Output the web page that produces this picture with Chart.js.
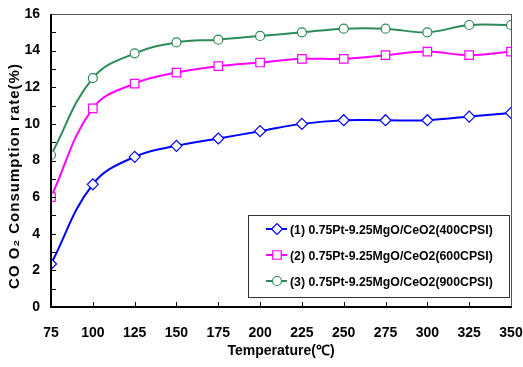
<!DOCTYPE html>
<html lang="en">
<head>
  <meta charset="UTF-8">
  <title>CO Consumption rate</title>
  <style>
    body { margin: 0; background: #fff; }
    .wrap { width: 523px; height: 367px; }
  </style>
  <script src="https://cdn.jsdelivr.net/npm/chart.js"></script>
</head>
<body>
  <div class="wrap"><canvas id="chart"></canvas></div>
  <script>
    // data
    const temps = [75, 100, 125, 150, 175, 200, 225, 250, 275, 300, 325, 350];
    const cpsi400 = [2.35, 6.7, 8.2, 8.8, 9.2, 9.6, 10.0, 10.2, 10.2, 10.2, 10.4, 10.6];
    const cpsi600 = [6.0, 10.85, 12.2, 12.8, 13.15, 13.35, 13.55, 13.55, 13.75, 13.95, 13.75, 13.95];
    const cpsi900 = [8.3, 12.5, 13.85, 14.45, 14.6, 14.8, 15.0, 15.2, 15.2, 15.0, 15.4, 15.4];
    const seriesNames = [
      '(1) 0.75Pt-9.25MgO/CeO2(400CPSI)',
      '(2) 0.75Pt-9.25MgO/CeO2(600CPSI)',
      '(3) 0.75Pt-9.25MgO/CeO2(900CPSI)'
    ];
    const yTitle = 'CO O\u2082 Consumption rate(%)';
    const xTitle = 'Temperature(\u2103)';

    const font = 'Arial, "Liberation Sans", sans-serif';

    function makeSet(label, values, color, style, radius) {
      return {
        label,
        data: temps.map((t, i) => ({ x: t, y: values[i] })),
        borderColor: color,
        backgroundColor: '#fff',
        borderWidth: 2,
        tension: 0.4,
        pointStyle: style,
        pointRadius: radius,
        pointBorderWidth: 1.2,
        pointBackgroundColor: '#fff',
        pointBorderColor: color
      };
    }

    // inward ticks, frame, y title and inner legend
    const decor = {
      id: 'decor',
      afterDraw(chart) {
        const { ctx, chartArea: a, scales } = chart;
        ctx.save();
        ctx.strokeStyle = '#000';
        ctx.lineWidth = 1;
        for (let v = 0; v <= 16; v++) {
          const y = Math.round(scales.y.getPixelForValue(v)) + 0.5;
          ctx.beginPath(); ctx.moveTo(a.left, y); ctx.lineTo(a.left + 5, y); ctx.stroke();
        }
        temps.forEach(t => {
          const x = Math.round(scales.x.getPixelForValue(t)) + 0.5;
          ctx.beginPath(); ctx.moveTo(x, a.bottom); ctx.lineTo(x, a.bottom - 5); ctx.stroke();
        });
        // frame
        ctx.strokeStyle = '#555';
        ctx.strokeRect(a.left + 0.5, a.top + 0.5, a.right - a.left, a.bottom - a.top);
        ctx.strokeStyle = '#000';
        ctx.lineWidth = 2;
        ctx.beginPath();
        ctx.moveTo(a.left, a.top); ctx.lineTo(a.left, a.bottom); ctx.lineTo(a.right + 1, a.bottom);
        ctx.stroke();

        // y title
        ctx.save();
        ctx.translate(15, 176);
        ctx.rotate(-Math.PI / 2);
        ctx.font = 'bold 15px ' + font;
        ctx.letterSpacing = '1px';
        ctx.fillStyle = '#000';
        ctx.textAlign = 'center';
        ctx.textBaseline = 'middle';
        ctx.fillText(yTitle, 0, 0);
        ctx.restore();

        // legend box
        const bx = 248, by = 215, bw = 261, bh = 82;
        ctx.fillStyle = '#fff';
        ctx.fillRect(bx, by, bw, bh);
        ctx.strokeStyle = '#333';
        ctx.lineWidth = 1;
        ctx.strokeRect(bx + 0.5, by + 0.5, bw, bh);
        ctx.font = 'bold 13px ' + font;
        ctx.textBaseline = 'middle';
        chart.data.datasets.forEach((ds, i) => {
          const y = 229 + i * 26;
          ctx.strokeStyle = ds.borderColor;
          ctx.lineWidth = 2;
          ctx.beginPath(); ctx.moveTo(266, y); ctx.lineTo(287, y); ctx.stroke();
          ctx.fillStyle = '#fff';
          ctx.lineWidth = 1.2;
          Chart.helpers.drawPoint(ctx, { pointStyle: ds.pointStyle, radius: ds.pointRadius, borderWidth: 1.2, rotation: 0 }, 277, y);
          ctx.fillStyle = '#000';
          ctx.save();
          ctx.translate(290, y + 1);
          ctx.scale(0.945, 1);
          ctx.fillText(ds.label, 0, 0);
          ctx.restore();
        });
        ctx.restore();
      }
    };

    new Chart(document.getElementById('chart'), {
      type: 'line',
      data: {
        datasets: [
          makeSet(seriesNames[0], cpsi400, '#0000FF', 'rectRot', 5.5),
          makeSet(seriesNames[1], cpsi600, '#FF00FF', 'rect', 6),
          makeSet(seriesNames[2], cpsi900, '#2E8B57', 'circle', 4.5)
        ]
      },
      options: {
        responsive: true,
        maintainAspectRatio: false,
        animation: false,
        layout: { padding: { top: 14, right: 0, left: 0, bottom: 0 } },
        plugins: { legend: { display: false }, tooltip: { enabled: false } },
        scales: {
          x: {
            type: 'linear', min: 75, max: 350,
            grid: { display: false }, border: { display: false },
            ticks: { stepSize: 25, color: '#000', padding: 10, font: { family: font, size: 14, weight: 'bold' } },
            title: { display: true, text: xTitle, color: '#000', padding: { top: 0, bottom: 7 }, font: { family: font, size: 14, weight: 'bold' } },
            afterFit(s) { s.height = 60; s.paddingLeft = 0; s.paddingRight = 12; }
          },
          y: {
            min: 0, max: 16,
            grid: { display: false }, border: { display: false },
            ticks: { stepSize: 2, color: '#000', padding: 3, font: { family: font, size: 14, weight: 'bold' } },
            afterFit(s) { s.width = 51; }
          }
        }
      },
      plugins: [decor]
    });
  </script>
</body>
</html>
